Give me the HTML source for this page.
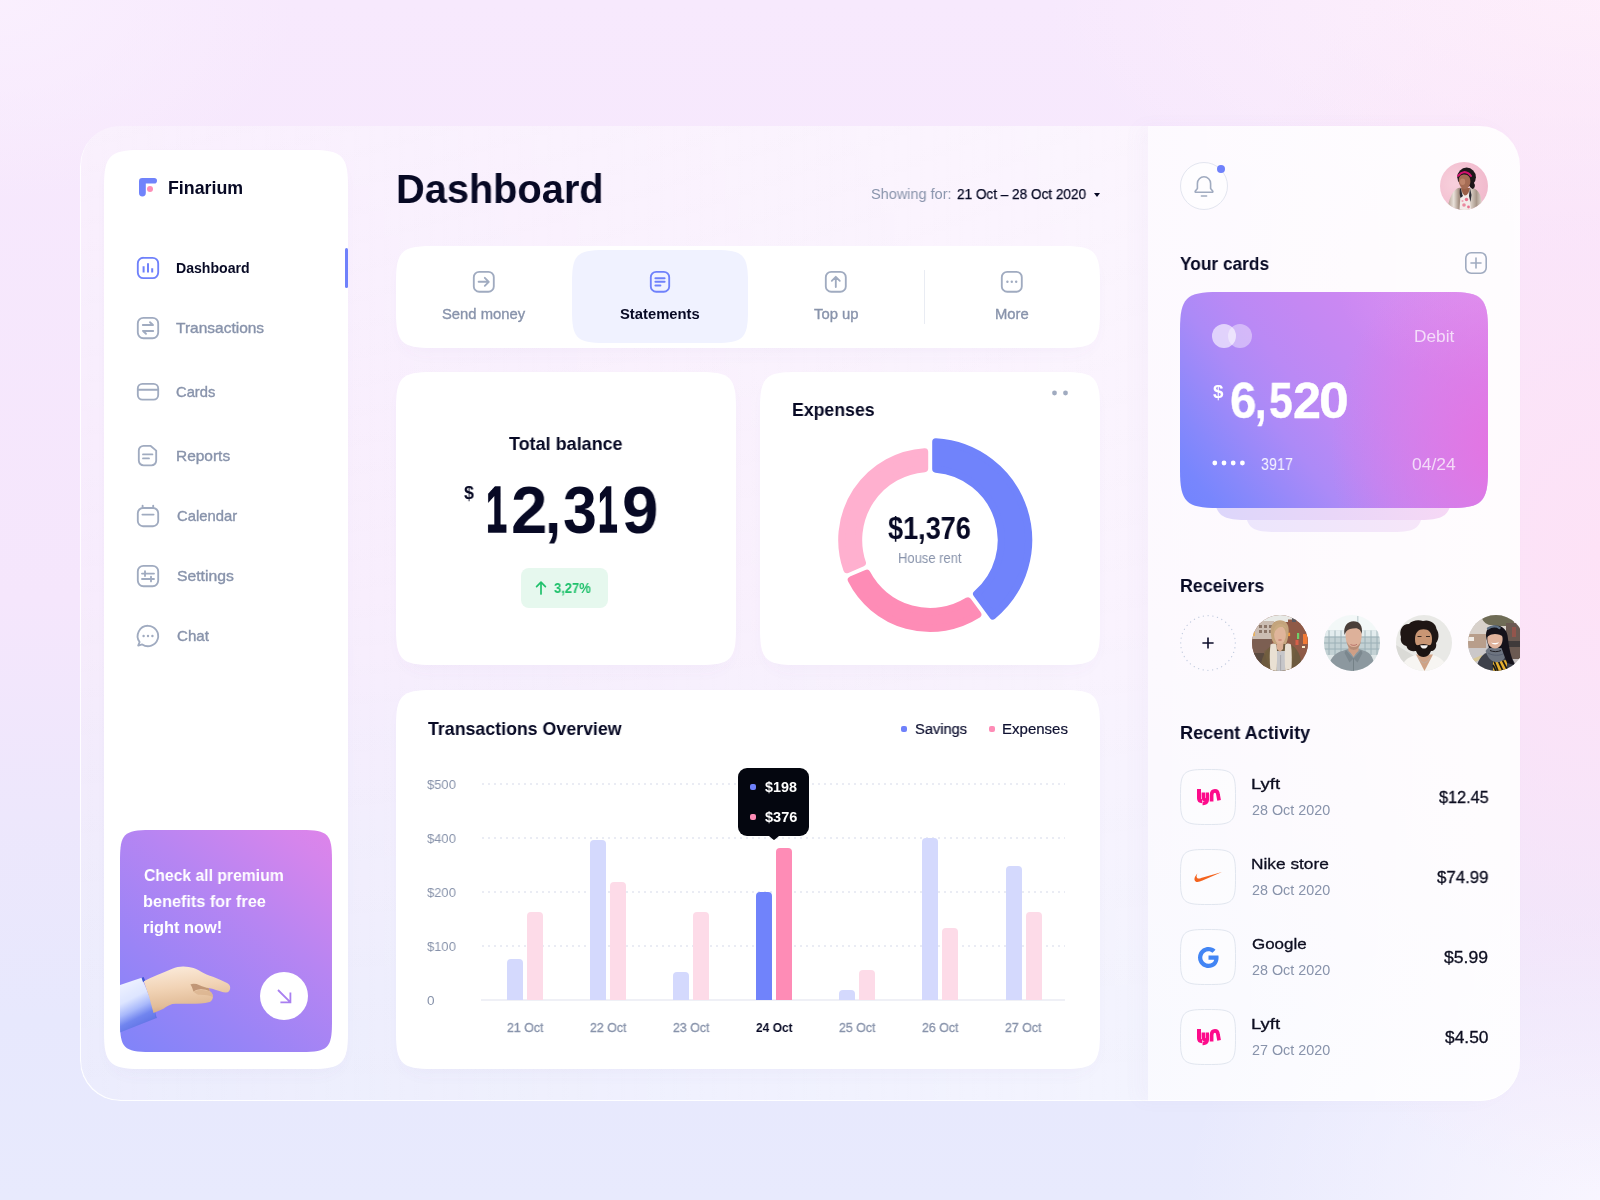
<!DOCTYPE html>
<html lang="en"><head><meta charset="utf-8"><title>Finarium Dashboard</title>
<style>
html,body{margin:0;padding:0}
body{width:1600px;height:1200px;position:relative;overflow:hidden;font-family:"Liberation Sans",sans-serif;
background:
 radial-gradient(ellipse 460px 640px at 100% 46%, rgba(253,226,246,1) 0%, rgba(253,227,247,.55) 50%, rgba(253,226,246,0) 100%),
 radial-gradient(ellipse 560px 240px at 100% 0%, rgba(254,240,251,.95) 0%, rgba(254,240,251,0) 100%),
 radial-gradient(ellipse 420px 300px at 100% 100%, rgba(249,246,255,.95) 0%, rgba(249,246,255,0) 100%),
 radial-gradient(ellipse 300px 200px at 0% 0%, rgba(250,240,254,.9) 0%, rgba(250,240,254,0) 100%),
 linear-gradient(180deg,#f7e9fd 0%,#f5e6fc 50%,#ede7fc 68%,#e7e8fd 85%,#e8eafd 100%);}
.a{position:absolute;box-sizing:border-box}
.t{position:absolute;white-space:nowrap;line-height:1;transform-origin:0 0;display:block;will-change:transform}
.card{position:absolute;background:#fff;border-radius:24px;box-shadow:0 6px 18px rgba(150,120,200,.045)}
svg{position:absolute;overflow:visible}
</style></head>
<body>
<div class="a" style="left:80px;top:126px;width:1068px;height:975px;border-radius:40px 0 0 40px;background:linear-gradient(180deg,rgba(255,255,255,.15),rgba(255,255,255,.04) 60%,rgba(255,255,255,0)),linear-gradient(90deg,rgba(255,255,255,.20),rgba(255,255,255,.34) 50%,rgba(255,255,255,.50));box-shadow:inset 1px -1px 0 rgba(255,255,255,.9);"></div>
<div class="a" style="left:1148px;top:126px;width:372px;height:975px;border-radius:0 40px 40px 0;background:linear-gradient(90deg,rgba(255,255,255,.76),rgba(255,255,255,.84) 50%,rgba(255,255,255,.90));box-shadow:inset 0 -1px 0 rgba(255,255,255,.95), -10px 0 18px rgba(150,120,200,.035);"></div>
<svg style="left:0;top:0" width="1600" height="1200" viewBox="0 0 1600 1200"><defs><filter id="blr" x="-10%" y="-10%" width="120%" height="130%"><feGaussianBlur stdDeviation="7"/></filter></defs><path d="M110 196C110 166 116 160 146 160H306C336 160 342 166 342 196V1037C342 1067 336 1073 306 1073H146C116 1073 110 1067 110 1037Z" fill="rgba(140,115,200,.05)" filter="url(#blr)"/><path d="M104 186C104 156 110 150 140 150H312C342 150 348 156 348 186V1033C348 1063 342 1069 312 1069H140C110 1069 104 1063 104 1033Z" fill="#fff"/><path d="M402 292C402 261.5 407.5 256 438 256H1058C1088.5 256 1094 261.5 1094 292V316C1094 346.5 1088.5 352 1058 352H438C407.5 352 402 346.5 402 316Z" fill="rgba(140,115,200,.05)" filter="url(#blr)"/><path d="M396 282C396 251.5 401.5 246 432 246H1064C1094.5 246 1100 251.5 1100 282V312C1100 342.5 1094.5 348 1064 348H432C401.5 348 396 342.5 396 312Z" fill="#fff"/><path d="M402 418C402 387.5 407.5 382 438 382H694C724.5 382 730 387.5 730 418V633C730 663.5 724.5 669 694 669H438C407.5 669 402 663.5 402 633Z" fill="rgba(140,115,200,.05)" filter="url(#blr)"/><path d="M396 408C396 377.5 401.5 372 432 372H700C730.5 372 736 377.5 736 408V629C736 659.5 730.5 665 700 665H432C401.5 665 396 659.5 396 629Z" fill="#fff"/><path d="M766 418C766 387.5 771.5 382 802 382H1058C1088.5 382 1094 387.5 1094 418V633C1094 663.5 1088.5 669 1058 669H802C771.5 669 766 663.5 766 633Z" fill="rgba(140,115,200,.05)" filter="url(#blr)"/><path d="M760 408C760 377.5 765.5 372 796 372H1064C1094.5 372 1100 377.5 1100 408V629C1100 659.5 1094.5 665 1064 665H796C765.5 665 760 659.5 760 629Z" fill="#fff"/><path d="M402 736C402 705.5 407.5 700 438 700H1058C1088.5 700 1094 705.5 1094 736V1037C1094 1067.5 1088.5 1073 1058 1073H438C407.5 1073 402 1067.5 402 1037Z" fill="rgba(140,115,200,.05)" filter="url(#blr)"/><path d="M396 726C396 695.5 401.5 690 432 690H1064C1094.5 690 1100 695.5 1100 726V1033C1100 1063.5 1094.5 1069 1064 1069H432C401.5 1069 396 1063.5 396 1033Z" fill="#fff"/><path d="M572 282C572 255 577 250 604 250H716C743 250 748 255 748 282V311C748 338 743 343 716 343H604C577 343 572 338 572 311Z" fill="#f0f2ff"/></svg>
<svg style="left:139px;top:178px" width="18" height="18" viewBox="0 0 18 18"><path d="M0 3.2Q0 0 3.2 0H15.2A2.8 2.8 0 0 1 15.2 5.6H6.8V15A2.9 2.9 0 0 1 0 15Z" fill="#7083fb"/><circle cx="11" cy="11" r="3" fill="#fd8db6"/></svg>
<div class="a" style="left:345px;top:248px;width:3px;height:40px;border-radius:2px;background:#6f81fb"></div>
<svg style="left:137px;top:257px" width="22" height="22" viewBox="0 0 22 22" fill="none" stroke="#6f81fb" stroke-width="1.85" stroke-linecap="round" stroke-linejoin="round"><rect x=".8" y=".8" width="20.4" height="20.4" rx="5.6"/><path d="M6.6 15.4V9.2M11 15.4V6.2M15.2 15.4V11.2" stroke-width="2" stroke-linecap="butt"/></svg>
<svg style="left:137px;top:317px" width="22" height="22" viewBox="0 0 22 22" fill="none" stroke="#a0abc0" stroke-width="1.85" stroke-linecap="round" stroke-linejoin="round"><rect x=".8" y=".8" width="20.4" height="20.4" rx="5.6"/><path d="M5.8 8h10.2M13 5.2l3 2.8M16.2 14H6M9 16.8l-3-2.8"/></svg>
<svg style="left:137px;top:383.3px" width="22" height="17.4" viewBox="0 0 22 17.4" fill="none" stroke="#a0abc0" stroke-width="1.85" stroke-linecap="round" stroke-linejoin="round"><rect x=".8" y=".8" width="20.4" height="15.8" rx="4.6"/><path d="M1 6.8h20"/></svg>
<svg style="left:138.4px;top:445.4px" width="19" height="21.2" viewBox="0 0 19 21.2" fill="none" stroke="#a0abc0" stroke-width="1.85" stroke-linecap="round" stroke-linejoin="round"><path d="M5.6.8H12.4L18.2 5.6V15.6A4.8 4.8 0 0 1 13.4 20.4H5.6A4.8 4.8 0 0 1 .8 15.6V5.6A4.8 4.8 0 0 1 5.6.8Z"/><path d="M5 9.4h9.4M5 13.4h6"/></svg>
<svg style="left:137px;top:504.6px" width="22" height="22" viewBox="0 0 22 22" fill="none" stroke="#a0abc0" stroke-width="1.85" stroke-linecap="round" stroke-linejoin="round"><rect x=".8" y="3" width="20.4" height="18.2" rx="5.2"/><path d="M5.6.6v2.4M16.2.6v2.4M5.4 9.6h11.2"/></svg>
<svg style="left:137px;top:565px" width="22" height="22" viewBox="0 0 22 22" fill="none" stroke="#a0abc0" stroke-width="1.85" stroke-linecap="round" stroke-linejoin="round"><rect x=".8" y=".8" width="20.4" height="20.4" rx="5.6"/><path d="M5 8.6h12M8 6.2v4.8M5 14h12M14 11.6v4.8"/></svg>
<svg style="left:137px;top:625px" width="22" height="22" viewBox="0 0 22 22" fill="none" stroke="#a0abc0" stroke-width="1.85" stroke-linecap="round" stroke-linejoin="round"><path d="M11 .8A10.2 10.2 0 1 1 5.2 19.4L1.2 20.6L2.6 17A10.2 10.2 0 0 1 11 .8Z"/><g fill="#a0abc0" stroke="none"><circle cx="6.6" cy="11" r="1.2"/><circle cx="11" cy="11" r="1.2"/><circle cx="15.4" cy="11" r="1.2"/></g></svg>
<div class="a" style="left:120px;top:830px;width:212px;height:222px;clip-path:path('M0 30C0 4 4 0 30 0H182C208 0 212 4 212 30V192C212 218 208 222 182 222H30C4 222 0 218 0 192Z');background:linear-gradient(38deg,#7f84f9 0%,#9a84f6 30%,#b785f2 62%,#d585ec 90%,#de84ea 100%)"><svg style="left:0;top:0" width="212" height="222" viewBox="120 830 212 222"><defs><linearGradient id="slv" x1=".2" y1="0" x2=".55" y2="1"><stop offset="0" stop-color="#f1f4ff"/><stop offset=".38" stop-color="#dde5ff"/><stop offset=".58" stop-color="#a9b9fb"/><stop offset=".74" stop-color="#7185ef"/><stop offset="1" stop-color="#586be0"/></linearGradient><linearGradient id="skn" x1=".3" y1="0" x2=".5" y2="1"><stop offset="0" stop-color="#fbead9"/><stop offset=".45" stop-color="#f1d3b5"/><stop offset=".8" stop-color="#e2bd99"/><stop offset="1" stop-color="#cfa47f"/></linearGradient></defs><path d="M118 985.800L141.600 977.700Q150 996 156.600 1018.100L118 1033.400Z" fill="url(#slv)"/><path d="M141.600 977.700L143.600 977.100L145.600 981.400L143 982Z" fill="#3f55d2"/><path d="M147.400 986.500Q152.600 1000 156 1018.300L156.700 1018Q152.600 1000 148 986.300Z" fill="#4c61d8" opacity=".5"/><path d="M143.750 981.250C148 979 152.500 977 157.250 975C162 973 167 970.800 172.250 968.750C176 967.300 180 966.500 183.500 966.600C187 966.700 190.500 967.200 193.500 968.100C197 969.300 200.500 971.300 203.500 973.100C207.500 975.100 212 976.600 216 978.100C219.500 979.500 223 981 226 982.500C228.800 983.800 230.400 985.700 230.200 987.900C230 990.600 228.600 992.400 226 992.450C222.500 992.500 219.300 991 216 990C213.500 989.200 211 988.600 208.500 988.100C209.300 989 209.700 990.100 209.750 991.250C211.800 992.500 213.100 994.600 212.900 996.900C212.700 999.200 211.600 1001.100 209.750 1001.900C204 1003.500 197.500 1003.600 191 1003.750C184.500 1003.900 178 1003.300 172.250 1004C169 1005 166.200 1006.800 163.500 1008.750C160 1010.400 156.600 1011.900 153.500 1013.100Q149.500 996 143.750 981.250Z" fill="url(#skn)"/><path d="M190.400 984.400C193 983.400 196.500 983.800 199.500 985.200C202.800 986.600 206 987.600 208.500 988.100C209.300 989 209.700 990.100 209.750 991.250C206.500 989.500 202.500 988.800 199 989.400C196.500 989.800 194.500 990.600 193.400 991.400C192.800 989 191.800 986.400 190.400 984.400Z" fill="#b88c6b" opacity=".85"/><path d="M193.400 991.400C196 990.200 199.500 989.600 202.500 990C205.500 990.400 208 991 209.750 991.250C211.800 992.500 213.100 994.600 212.900 996.900C209 995.200 203 994.400 198.500 994.800C196.500 993.900 194.600 992.700 193.400 991.400Z" fill="#d9b08c" opacity=".7"/></svg></div>
<div class="a" style="left:260px;top:972px;width:48px;height:48px;border-radius:50%;background:#fff"></div>
<svg style="left:276.600px;top:988.800px" width="15" height="15" viewBox="0 0 15 15" fill="none" stroke="#a97ff0" stroke-width="1.800" stroke-linecap="butt" stroke-linejoin="miter"><path d="M1 1L13.200 13.200M13.400 3.400V13.400H3.400"/></svg>
<svg style="left:1094px;top:193px" width="6" height="4" viewBox="0 0 6 4"><path d="M0 0h6L3 4Z" fill="#070924"/></svg>
<div class="a" style="left:923.5px;top:270px;width:1px;height:54px;background:#e9ecf3"></div>
<svg style="left:473.2px;top:271.0px" width="21.6" height="21.6" viewBox="0 0 21.6 21.6" fill="none" stroke="#a0abc0" stroke-width="1.85" stroke-linecap="round" stroke-linejoin="round"><rect x=".8" y=".8" width="20" height="20" rx="5.4"/><path d="M5.6 10.8h10M11.8 6.8l4 4l-4 4"/></svg>
<svg style="left:650.0px;top:271.0px" width="20" height="21.6" viewBox="0 0 20 21.6" fill="none" stroke="#6f81fb" stroke-width="1.85" stroke-linecap="round" stroke-linejoin="round"><rect x=".8" y=".8" width="18.4" height="20" rx="5.4"/><path d="M5.4 7.2h9.2M5.4 10.8h9.2M5.4 14.4h5" stroke-width="2"/></svg>
<svg style="left:825.2px;top:271.0px" width="21.6" height="21.6" viewBox="0 0 21.6 21.6" fill="none" stroke="#a0abc0" stroke-width="1.85" stroke-linecap="round" stroke-linejoin="round"><rect x=".8" y=".8" width="20" height="20" rx="5.4"/><path d="M10.8 16V6M6.8 9.8l4-4l4 4"/></svg>
<svg style="left:1001.2px;top:271.0px" width="21.6" height="21.6" viewBox="0 0 21.6 21.6" fill="none" stroke="#a0abc0" stroke-width="1.85" stroke-linecap="round" stroke-linejoin="round"><rect x=".8" y=".8" width="20" height="20" rx="5.4"/><g fill="#a0abc0" stroke="none"><circle cx="6.4" cy="10.8" r="1.2"/><circle cx="10.8" cy="10.8" r="1.2"/><circle cx="15.2" cy="10.8" r="1.2"/></g></svg>
<div class="a" style="left:521px;top:568px;width:87px;height:40px;border-radius:8px;background:#e6f8ee"></div>
<svg style="left:535px;top:581px" width="12" height="14" viewBox="0 0 12 14" fill="none" stroke="#20c16c" stroke-width="1.7" stroke-linecap="round" stroke-linejoin="round"><path d="M6 13V1.4M1.6 5.6L6 1.2l4.4 4.4"/></svg>
<svg style="left:1050px;top:388px" width="20" height="10" viewBox="0 0 20 10"><circle cx="4.5" cy="5" r="2.4" fill="#a0abc0"/><circle cx="15.5" cy="5" r="2.4" fill="#a0abc0"/></svg>
<svg style="left:0;top:0" width="1600" height="1200" viewBox="0 0 1600 1200"><path d="M935.80 441.76A98.4 98.4 0 0 1 992.74 615.97L976.58 593.89A71.1 71.1 0 0 0 935.79 469.12Z" fill="#7083fb" stroke="#7083fb" stroke-width="7.2" stroke-linejoin="round"/><path d="M977.79 614.50A88.4 88.4 0 0 1 851.32 579.90L866.79 573.26A71.6 71.6 0 0 0 967.84 600.91Z" fill="#fe8cb6" stroke="#fe8cb6" stroke-width="7.2" stroke-linejoin="round"/><path d="M846.91 569.61A88.4 88.4 0 0 1 924.60 451.78L924.61 468.62A71.6 71.6 0 0 0 862.39 562.98Z" fill="#ffb0cf" stroke="#ffb0cf" stroke-width="7.2" stroke-linejoin="round"/></svg>
<div class="a" style="left:901px;top:726px;width:6px;height:6px;border-radius:2px;background:#6f81fb"></div>
<div class="a" style="left:989px;top:726px;width:6px;height:6px;border-radius:2px;background:#fe8cb6"></div>
<svg style="left:0;top:0" width="1600" height="1200" viewBox="0 0 1600 1200"><line x1="482" y1="784" x2="1065" y2="784" stroke="#eaecf4" stroke-width="2" stroke-dasharray="2 4"/><line x1="482" y1="838" x2="1065" y2="838" stroke="#eaecf4" stroke-width="2" stroke-dasharray="2 4"/><line x1="482" y1="892" x2="1065" y2="892" stroke="#eaecf4" stroke-width="2" stroke-dasharray="2 4"/><line x1="482" y1="946" x2="1065" y2="946" stroke="#eaecf4" stroke-width="2" stroke-dasharray="2 4"/><line x1="481" y1="1000" x2="1065" y2="1000" stroke="#eff0f6" stroke-width="2"/><path d="M507 1000V963Q507 959 511 959H519Q523 959 523 963V1000Z" fill="#d4d9fd"/><path d="M527 1000V916Q527 912 531 912H539Q543 912 543 916V1000Z" fill="#fddbe8"/><path d="M590 1000V844Q590 840 594 840H602Q606 840 606 844V1000Z" fill="#d4d9fd"/><path d="M610 1000V886Q610 882 614 882H622Q626 882 626 886V1000Z" fill="#fddbe8"/><path d="M673 1000V976Q673 972 677 972H685Q689 972 689 976V1000Z" fill="#d4d9fd"/><path d="M693 1000V916Q693 912 697 912H705Q709 912 709 916V1000Z" fill="#fddbe8"/><path d="M756 1000V896Q756 892 760 892H768Q772 892 772 896V1000Z" fill="#7083fb"/><path d="M776 1000V852Q776 848 780 848H788Q792 848 792 852V1000Z" fill="#fe8cb6"/><path d="M839 1000V994Q839 990 843 990H851Q855 990 855 994V1000Z" fill="#d4d9fd"/><path d="M859 1000V974Q859 970 863 970H871Q875 970 875 974V1000Z" fill="#fddbe8"/><path d="M922 1000V842Q922 838 926 838H934Q938 838 938 842V1000Z" fill="#d4d9fd"/><path d="M942 1000V932Q942 928 946 928H954Q958 928 958 932V1000Z" fill="#fddbe8"/><path d="M1006 1000V870Q1006 866 1010 866H1018Q1022 866 1022 870V1000Z" fill="#d4d9fd"/><path d="M1026 1000V916Q1026 912 1030 912H1038Q1042 912 1042 916V1000Z" fill="#fddbe8"/></svg>
<div class="a" style="left:738px;top:768px;width:71px;height:68px;border-radius:9px;background:#04060f"></div>
<svg style="left:769px;top:835.5px" width="10" height="5" viewBox="0 0 10 5"><path d="M0 0h10L5.800 3.600Q5 4.300 4.200 3.600Z" fill="#04060f"/></svg>
<div class="a" style="left:750px;top:784px;width:6px;height:6px;border-radius:2px;background:#6f81fb"></div>
<div class="a" style="left:750px;top:814px;width:6px;height:6px;border-radius:2px;background:#fe8cb6"></div>
<div class="a" style="left:1180px;top:162px;width:48px;height:48px;border-radius:50%;border:1px solid #e3e6f0;background:rgba(255,255,255,.5)"></div>
<svg style="left:1193px;top:174px" width="22" height="24" viewBox="0 0 22 24" fill="none" stroke="#a0abc0" stroke-width="1.6" stroke-linecap="round" stroke-linejoin="round"><path d="M4.4 14.6V9.4A6.6 6.6 0 0 1 17.6 9.4V14.6L19.8 17.2Q20.2 18.2 19 18.2H3Q1.8 18.2 2.2 17.2Z"/><path d="M8.4 22h5.2"/></svg>
<div class="a" style="left:1217px;top:165px;width:8px;height:8px;border-radius:50%;background:#6f81fb"></div>
<svg style="left:1440px;top:162px" width="48" height="48" viewBox="0 0 48 48"><defs><clipPath id="ua"><circle cx="24" cy="24" r="24"/></clipPath><radialGradient id="uab" cx=".3" cy=".45" r=".8"><stop offset="0" stop-color="#f8d0dc"/><stop offset="1" stop-color="#f0b7cb"/></radialGradient><linearGradient id="ujk" x1="0" y1="0" x2="1" y2="0"><stop offset="0" stop-color="#b3a093"/><stop offset=".18" stop-color="#e9e1da"/><stop offset=".34" stop-color="#a08b7d"/><stop offset=".5" stop-color="#e6ddd5"/><stop offset=".68" stop-color="#d8cdc4"/><stop offset=".84" stop-color="#a8978a"/><stop offset="1" stop-color="#e3dad3"/></linearGradient></defs><g clip-path="url(#ua)"><rect width="48" height="48" fill="url(#uab)"/><path d="M7.500 48C8.500 38 12 29.500 17 26.500C20 25 23 25.500 26 26L30.500 25.500C35 26 39 29 40.500 34C42 39 42 44 42 48Z" fill="url(#ujk)"/><path d="M20.500 33C22 31 26 31 29 32L31 48H19.500Z" fill="#f3ebe9"/><circle cx="26.500" cy="37.500" r="1.700" fill="#e8738f"/><circle cx="24" cy="43" r="1.800" fill="#ea8aa0"/><circle cx="28.500" cy="45" r="1.400" fill="#e8738f"/><circle cx="22.500" cy="39" r="1.100" fill="#f0a4b6"/><path d="M21 26.500C21.500 30 22 32 23 34L20.500 36C19.500 33 19.500 29 20 26.500Z" fill="#2a2c35"/><path d="M30 26L29 34L30.500 40L31.500 33Z" fill="#2a2c35"/><path d="M21 26C22 29 23 33 25 33.500C27.500 33.500 29 30 30 26Z" fill="#9a6048"/><ellipse cx="26.600" cy="15.200" rx="9.300" ry="9.600" fill="#1d171a"/><path d="M30 20C36 19 36 26 32.500 27L30 25Z" fill="#1d171a"/><path d="M18.800 19C18.400 14.500 21 12.500 24.500 12.500C28.500 12.500 30.500 15.500 30.400 19.500C30.300 23.500 28 27 24.500 27C21.500 27 19.200 23.500 18.800 19Z" fill="#a56c54"/><ellipse cx="22.600" cy="19.800" rx="2.600" ry="3.200" fill="#c98f74" opacity=".7"/><path d="M18 13.800C20 11.500 22.500 10.200 24.500 10C27.500 10.200 29.500 11.800 31 14" stroke="#d4116f" stroke-width="2" fill="none" stroke-linecap="round"/></g></svg>
<svg style="left:1465px;top:252px" width="22" height="22" viewBox="0 0 22 22" fill="none" stroke="#a0abc0" stroke-width="1.6" stroke-linecap="round"><rect x=".8" y=".8" width="20.4" height="20.4" rx="5.4"/><path d="M11 6v10M6 11h10"/></svg>
<div class="a" style="left:1245px;top:470px;width:178px;height:62px;clip-path:path('M0 30C0 5 5 0 30 0H148C173 0 178 5 178 30V32C178 57 173 62 148 62H30C5 62 0 57 0 32Z');background:linear-gradient(90deg,#ece6fc,#f6e6f9)"></div>
<div class="a" style="left:1214px;top:450px;width:238px;height:70px;clip-path:path('M0 34C0 5 5 0 34 0H204C233 0 238 5 238 34V36C238 65 233 70 204 70H34C5 70 0 65 0 36Z');background:linear-gradient(90deg,#dcd6fb,#e9d6f8 50%,#f6d8f5)"></div>
<div class="a" style="left:1180px;top:292px;width:308px;height:216px;clip-path:path('M0 38C0 6 6 0 38 0H270C302 0 308 6 308 38V178C308 210 302 216 270 216H38C6 216 0 210 0 178Z');background:radial-gradient(ellipse 170px 200px at 104% 72%,rgba(230,114,224,.9),rgba(228,118,226,.45) 55%,rgba(226,118,226,0) 100%),radial-gradient(ellipse 150px 90px at 100% 0%,rgba(226,156,242,.5),rgba(226,156,242,0) 100%),linear-gradient(52deg,#7184fe 0%,#7886fd 8%,#8788fb 16%,#9a89f9 25%,#ac8af7 34%,#ba89f5 45%,#c488f3 58%,#cd88f2 72%,#d98cef 100%)"></div>
<svg style="left:1212px;top:324px" width="40" height="24" viewBox="0 0 40 24"><circle cx="12" cy="12" r="12" fill="#fff" fill-opacity=".62"/><circle cx="28" cy="12" r="12" fill="#fff" fill-opacity=".4"/></svg>
<svg style="left:1212px;top:460px" width="34" height="6" viewBox="0 0 34 6" fill="#fff"><circle cx="2.8" cy="3" r="2.4"/><circle cx="12" cy="3" r="2.4"/><circle cx="21.2" cy="3" r="2.4"/><circle cx="30.4" cy="3" r="2.4"/></svg>
<svg style="left:1180px;top:615px" width="56" height="56" viewBox="0 0 56 56" fill="none"><circle cx="28" cy="28" r="27.3" stroke="#c4cde0" stroke-width="1.3" stroke-dasharray="0.1 4.66" stroke-linecap="round"/><path d="M22.4 28h11.2M28 22.4v11.2" stroke="#0b0c2a" stroke-width="1.6"/></svg>
<svg style="left:1252px;top:615px" width="56" height="56" viewBox="0 0 56 56"><defs><clipPath id="av1"><circle cx="28" cy="28" r="28"/></clipPath></defs><g clip-path="url(#av1)"><rect width="56" height="56" fill="#8d5946"/><rect width="56" height="7" fill="#e8eae7"/><rect x="0" y="6" width="22" height="19" fill="#cbbdb2"/><path d="M7 10h3v3h-3zM12 10h3v3h-3zM17 10h3v3h-3zM7 15h3v3h-3zM12 15h3v3h-3zM17 15h3v3h-3z" fill="#8c7668"/><rect x="36" y="4.500" width="20" height="34" fill="#8f5a47"/><rect x="40" y="3" width="4" height="4" fill="#5b5a60"/><rect x="45" y="18" width="2.200" height="6" fill="#6fd06a"/><rect x="51" y="19" width="4.500" height="10" fill="#f27a35"/><rect x="35.500" y="17.700" width="2.600" height="3.400" fill="#f39a3c"/><rect x="43.500" y="25" width="3" height="5" fill="#e8604a" opacity=".8"/><rect x="50" y="31" width="3" height="2" fill="#f6e9c8"/><rect x="0" y="24" width="20" height="15" fill="#7c5f52"/><rect x="0" y="38" width="12" height="18" fill="#5a4a40"/><rect x="0" y="17" width="3" height="4" fill="#f2b24a" opacity=".8"/><path d="M8 56C9 42 14 33 22 29L30 27.500L37 29C45 32 50 40 50 56Z" fill="#6d5a3f"/><path d="M22 30L28 44L34 30L37 29L44 34L38 56H18L12 36Z" fill="#75613f" opacity=".6"/><path d="M24 36L33.400 36L33 56H24.500Z" fill="#c6c6c9"/><path d="M28.600 40V56" stroke="#9fa0a6" stroke-width=".8"/><path d="M18.500 29.500C21 28 23.500 28.500 24.500 30C25.500 38 25 48 24.500 56H18.500C17.500 47 17.500 37 18.500 29.500Z" fill="#e9e0d3"/><path d="M39 29.500C36.500 28 34 28.500 33.200 30C32.400 38 32.800 48 33.200 56H39.300C40 47 40 37 39 29.500Z" fill="#e9e0d3"/><path d="M19 20C17.500 10 22 5.200 28 5.200C34.500 5.200 37.800 10 36.400 19C36 24 35 27 33.800 29L22.500 29C20.500 27 19.400 24 19 20Z" fill="#c3a47c"/><path d="M24.500 27H31.500L31 34L28 37L25 34Z" fill="#d9ad92"/><ellipse cx="28" cy="19.800" rx="5.900" ry="9" fill="#dfb59b"/><path d="M21.500 19C21.500 11.500 25 8.500 29 9C32 9.300 34 11 34.500 14C32 11.500 28 11.500 25.500 13.500C23.500 15 22.500 17 21.500 19Z" fill="#c9aa80"/><ellipse cx="28" cy="25" rx="2" ry=".7" fill="#c57f72"/></g></svg>
<svg style="left:1324px;top:615px" width="56" height="56" viewBox="0 0 56 56"><defs><clipPath id="av2"><circle cx="28" cy="28" r="28"/></clipPath></defs><g clip-path="url(#av2)"><rect width="56" height="56" fill="#f3f8f8"/><rect x="0" y="15.500" width="56" height="25" fill="#c3d1d4"/><rect x="0" y="15.500" width="56" height="6" fill="#e3ecee"/><path d="M0 22H56M0 28H56M0 34H56M5 15.500V40M11 15.500V40M17 15.500V40M41 15.500V40M47 15.500V40M53 15.500V40" stroke="#8ea5ad" stroke-width=".9" opacity=".8"/><rect x="33" y="1" width="1.500" height="14" fill="#c9d6d8"/><rect x="0" y="40" width="56" height="16" fill="#dde5e6"/><path d="M4 56C5 44 10 38.500 18 36L24 34H35L41 36C47 38 50.500 44 51 56Z" fill="#8c989f"/><path d="M24 33.500L29.500 42L35 33.500Z" fill="#d2a48c"/><path d="M22 35L29.500 43.500L25.500 47.500L20.500 38ZM37 35L29.500 43.500L33.500 47.500L38.500 38Z" fill="#7b878e"/><path d="M29.500 43.500V56" stroke="#6f7b82" stroke-width=".8"/><path d="M24.500 29H34.500V36L29.500 40L24.500 36Z" fill="#cf9f86"/><path d="M21.600 22C21 15 24 10.500 29.800 10.500C35.500 10.500 38.200 15 37.600 22C37 29 34 35 29.600 35C25.500 35 22.200 29 21.600 22Z" fill="#ddb19a"/><path d="M22.500 26C23.500 32 26.500 35 29.600 35C33 35 36 32 37 26C35.500 30 33 32 29.600 32C26.500 32 24 30 22.500 26Z" fill="#a98069" opacity=".75"/><path d="M20.500 20C19 11 23.500 6.200 29.500 6.200C35.500 6.200 39 10.500 37.800 19C37 15.500 35 13.200 31.500 13.200C27.500 13.200 24 14 22.200 16.500C21.500 17.500 21 19 20.500 20Z" fill="#4a3f3a"/><path d="M26.500 29.500C28.500 30.700 31.500 30.700 33 29.200" stroke="#b56e66" stroke-width=".9" fill="none"/></g></svg>
<svg style="left:1396px;top:615px" width="56" height="56" viewBox="0 0 56 56"><defs><clipPath id="av3"><circle cx="28" cy="28" r="28"/></clipPath></defs><g clip-path="url(#av3)"><rect width="56" height="56" fill="#e9e9e6"/><path d="M0 30L20 42L0 56Z" fill="#d3d3cf" opacity=".7"/><path d="M5 56C6 46 12 42 20 40L36.500 40C44 42 50 46 51 56Z" fill="#f7f5f2"/><path d="M20 39.500L28.500 56L37 39.500Z" fill="#cfa285"/><path d="M22 42Q28 54 34.500 42" stroke="#b8b4ae" stroke-width=".6" fill="none"/><path d="M5 22C2.500 15 7 8.500 13 9C16 5 23 4.500 27 6C33 4 40 8 40.500 14C43.500 18 43 25 40 28C41 32 39 35.500 36 36L19 36C15 37 11 34.500 10.500 31C6 30 4 26 5 22Z" fill="#1f1614"/><path d="M19 24C19 17.500 22.500 14.300 27.500 14.300C32.500 14.300 36 17.500 36 24C36 31 33 36 27.500 36C22 36 19 31 19 24Z" fill="#c99674"/><path d="M18.600 27C18.600 38 23 42 27.500 42C32 42 36.400 38 36.400 27C35.500 30 33.500 31 31.500 29.800C29 28.800 26 28.800 23.500 29.800C21.500 31 19.500 30 18.600 27Z" fill="#1b1311"/><path d="M24.300 30.200H31.800C31.500 32.600 29.800 33.600 28 33.600C26.200 33.600 24.600 32.600 24.300 30.200Z" fill="#f7f3f0"/><path d="M21.500 21.500h4M30 21.500h4" stroke="#3a2a22" stroke-width="1"/></g></svg>
<div class="a" style="left:1468px;top:615px;width:52px;height:56px;overflow:hidden"><svg style="left:0px;top:0px" width="56" height="56" viewBox="0 0 56 56"><defs><clipPath id="av4"><circle cx="28" cy="28" r="28"/></clipPath></defs><g clip-path="url(#av4)"><rect width="56" height="56" fill="#c7c2c2"/><rect x="0" y="0" width="56" height="22" fill="#d8d1cb"/><path d="M13 0H46V9C40 12 30 11 22 10C18 9.500 14 6 13 0Z" fill="#6f6c56"/><rect x="0" y="19" width="18" height="14" fill="#b89e8b"/><rect x="0" y="22" width="6" height="4" fill="#f1ece6"/><rect x="38" y="8" width="18" height="36" fill="#6b5a52"/><rect x="44" y="12" width="4" height="10" fill="#a4524a" opacity=".7"/><rect x="40" y="26" width="16" height="6" fill="#3f3a3a"/><rect x="0" y="33" width="30" height="23" fill="#cbc8c9"/><path d="M0 46L14 40L16 43L0 50Z" fill="#e1c878" opacity=".6"/><path d="M8 56C9 46 13 40 20 37L30 36L40 40C46 44 48 50 48 56Z" fill="#3d404a"/><path d="M25 45.300H39V56H25Z" fill="#e6b02f"/><path d="M26 46L30 56M30 45.300L35 56M34.500 45.300L39 54M25 50L28 56" stroke="#1c1a18" stroke-width="1.700"/><path d="M17.600 36C19 32 24 31 28 32C32 31 37 32 38 36C38.500 41 36 46 31 47C26 48 20 45 17.600 36Z" fill="#6d7480"/><path d="M20 38C25 41 32 41 37 38" stroke="#596070" stroke-width="1" fill="none"/><path d="M18.500 24C16.500 15 21 10.500 27.500 10.500C35 10.500 39.500 15 40 24C41 33 43 42 46.500 50L39 48L36 40L33.500 33H21Z" fill="#15121a"/><path d="M19.300 24C19.300 18.500 22.500 15.500 27 15.500C31.500 15.500 34.600 18.500 34.600 24C34.600 29.500 31.500 33.400 27 33.400C22.500 33.400 19.300 29.500 19.300 24Z" fill="#e0b39c"/><path d="M18.800 22.500C19 16 23 13.500 28 14C32 14.400 35 17 35.500 22C32.500 19.500 27.500 18 23.500 19.500C21.500 20.200 20 21.300 18.800 22.500Z" fill="#15121a"/><path d="M20 13.500C23.500 10.800 29 10.800 31.500 13" stroke="#5f7085" stroke-width="2.400" fill="none" stroke-linecap="round"/><path d="M23 27.500C25 30.200 29.500 30.200 31 27.300C29 28.300 25 28.400 23 27.500Z" fill="#fff"/><path d="M22 35.500C25 37 30 37 33 35.500" stroke="#1a171c" stroke-width=".9" fill="none"/></g></svg></div>
<svg style="left:1180px;top:769px" width="56" height="56" viewBox="0 0 56 56"><path d="M0.5 24.5C0.5 3.7 3.7 0.5 24.5 0.5H31.5C52.3 0.5 55.5 3.7 55.5 24.5V31.5C55.5 52.3 52.3 55.5 31.5 55.5H24.5C3.7 55.5 0.5 52.3 0.5 31.5Z" fill="rgba(255,255,255,.4)" stroke="#e1e6ef" stroke-width="1"/></svg>
<svg style="left:1196.8px;top:788.8px" width="23.4" height="16.4" viewBox="0 0 23.4 16.4" fill="none" stroke="#fd0b8b" stroke-linecap="butt" stroke-linejoin="round"><path d="M2 0V9.300Q2 12.200 5.200 12.200" stroke-width="4"/><path d="M6.300 3.400V8Q6.300 10.900 8.300 10.900Q10.300 10.900 10.300 8V3.400M10.300 7V11Q10.300 14.700 5.600 14.500" stroke-width="3.400"/><path d="M14.600 12.600V6.200Q14.600 1.900 18 1.900Q20.700 1.900 21 5.400L22.100 11.400" stroke-width="3.700"/></svg>
<svg style="left:1180px;top:849px" width="56" height="56" viewBox="0 0 56 56"><path d="M0.5 24.5C0.5 3.7 3.7 0.5 24.5 0.5H31.5C52.3 0.5 55.5 3.7 55.5 24.5V31.5C55.5 52.3 52.3 55.5 31.5 55.5H24.5C3.7 55.5 0.5 52.3 0.5 31.5Z" fill="rgba(255,255,255,.4)" stroke="#e1e6ef" stroke-width="1"/></svg>
<svg style="left:1194px;top:871.5px" width="28" height="11" viewBox="0 0 28 11"><path d="M28 0L8.500 8.600C5.500 9.900 3 10.400 1.600 9.400C-.4 8 .3 5 3.400 1.600C2.400 3.600 2.200 5.400 3.400 6.200C4.600 7 6.600 6.300 8.800 5.600Z" fill="#f4631e"/></svg>
<svg style="left:1180px;top:929px" width="56" height="56" viewBox="0 0 56 56"><path d="M0.5 24.5C0.5 3.7 3.7 0.5 24.5 0.5H31.5C52.3 0.5 55.5 3.7 55.5 24.5V31.5C55.5 52.3 52.3 55.5 31.5 55.5H24.5C3.7 55.5 0.5 52.3 0.5 31.5Z" fill="rgba(255,255,255,.4)" stroke="#e1e6ef" stroke-width="1"/></svg>
<svg style="left:1197.5px;top:946.5px" width="21" height="21" viewBox="1 1 22 22" fill="#4285f4"><path d="M22.560 12.250c0-.780-.070-1.530-.200-2.250H12v4.260h5.920c-.260 1.370-1.040 2.530-2.210 3.310v2.770h3.570c2.080-1.920 3.280-4.740 3.280-8.090z"/><path d="M12 23c2.970 0 5.460-.980 7.280-2.660l-3.570-2.770c-.980.660-2.230 1.060-3.710 1.060-2.860 0-5.290-1.930-6.160-4.530H2.180v2.840C3.990 20.530 7.700 23 12 23z"/><path d="M5.840 14.090c-.220-.660-.350-1.360-.350-2.090s.130-1.430.350-2.090V7.070H2.180C1.430 8.550 1 10.220 1 12s.430 3.450 1.180 4.930l2.850-2.220.810-.620z"/><path d="M12 5.380c1.620 0 3.060.560 4.210 1.640l3.150-3.150C17.450 2.090 14.970 1 12 1 7.700 1 3.990 3.470 2.180 7.070l3.660 2.840c.870-2.600 3.300-4.530 6.160-4.530z"/></svg>
<svg style="left:1180px;top:1009px" width="56" height="56" viewBox="0 0 56 56"><path d="M0.5 24.5C0.5 3.7 3.7 0.5 24.5 0.5H31.5C52.3 0.5 55.5 3.7 55.5 24.5V31.5C55.5 52.3 52.3 55.5 31.5 55.5H24.5C3.7 55.5 0.5 52.3 0.5 31.5Z" fill="rgba(255,255,255,.4)" stroke="#e1e6ef" stroke-width="1"/></svg>
<svg style="left:1196.8px;top:1028.8px" width="23.4" height="16.4" viewBox="0 0 23.4 16.4" fill="none" stroke="#fd0b8b" stroke-linecap="butt" stroke-linejoin="round"><path d="M2 0V9.300Q2 12.200 5.200 12.200" stroke-width="4"/><path d="M6.300 3.400V8Q6.300 10.900 8.300 10.900Q10.300 10.900 10.300 8V3.400M10.300 7V11Q10.300 14.700 5.600 14.500" stroke-width="3.400"/><path d="M14.600 12.600V6.200Q14.600 1.900 18 1.900Q20.700 1.900 21 5.400L22.100 11.400" stroke-width="3.700"/></svg>
<span class="t" style="left:167.75px;top:180px;font-size:17.8px;font-weight:700;color:#070924;">Finarium</span>
<span class="t" style="left:176.25px;top:261px;font-size:14.1px;font-weight:700;color:#070924;">Dashboard</span>
<span class="t" style="left:176.25px;top:321px;font-size:14.1px;font-weight:400;color:#8893ab;transform:scaleX(1.0991);-webkit-text-stroke:.35px currentColor;">Transactions</span>
<span class="t" style="left:176.25px;top:385px;font-size:14.1px;font-weight:400;color:#8893ab;transform:scaleX(1.0453);-webkit-text-stroke:.35px currentColor;">Cards</span>
<span class="t" style="left:175.50px;top:449px;font-size:14.1px;font-weight:400;color:#8893ab;transform:scaleX(1.0973);-webkit-text-stroke:.35px currentColor;">Reports</span>
<span class="t" style="left:176.60px;top:509px;font-size:14.1px;font-weight:400;color:#8893ab;transform:scaleX(1.0504);-webkit-text-stroke:.35px currentColor;">Calendar</span>
<span class="t" style="left:176.60px;top:569px;font-size:14.1px;font-weight:400;color:#8893ab;transform:scaleX(1.1164);-webkit-text-stroke:.35px currentColor;">Settings</span>
<span class="t" style="left:176.60px;top:629px;font-size:14.1px;font-weight:400;color:#8893ab;transform:scaleX(1.0719);-webkit-text-stroke:.35px currentColor;">Chat</span>
<span class="t" style="left:144.30px;top:867px;font-size:16.4px;font-weight:700;color:#fff;transform:scaleX(0.9582);">Check all premium</span>
<span class="t" style="left:143.31px;top:893px;font-size:16.4px;font-weight:700;color:#fff;transform:scaleX(0.9914);">benefits for free</span>
<span class="t" style="left:143.30px;top:919px;font-size:16.4px;font-weight:700;color:#fff;">right now!</span>
<span class="t" style="left:395.81px;top:169px;font-size:40.0px;font-weight:700;color:#070924;transform:scaleX(0.9932);">Dashboard</span>
<span class="t" style="left:870.90px;top:187px;font-size:14.7px;font-weight:400;color:#8893ab;transform:scaleX(0.9856);">Showing for:</span>
<span class="t" style="left:956.60px;top:187px;font-size:14.7px;font-weight:400;color:#070924;transform:scaleX(0.9244);-webkit-text-stroke:.25px currentColor;">21 Oct – 28 Oct 2020</span>
<span class="t" style="left:441.99px;top:307px;font-size:14.8px;font-weight:400;color:#8893ab;-webkit-text-stroke:.35px currentColor;">Send money</span>
<span class="t" style="left:620.40px;top:307px;font-size:14.8px;font-weight:700;color:#070924;">Statements</span>
<span class="t" style="left:813.81px;top:307px;font-size:14.8px;font-weight:400;color:#8893ab;-webkit-text-stroke:.35px currentColor;">Top up</span>
<span class="t" style="left:994.69px;top:307px;font-size:14.8px;font-weight:400;color:#8893ab;-webkit-text-stroke:.35px currentColor;">More</span>
<span class="t" style="left:509.20px;top:435px;font-size:18.6px;font-weight:700;color:#070924;transform:scaleX(0.9675);">Total balance</span>
<span class="t" style="left:464.00px;top:484px;font-size:18.8px;font-weight:700;color:#070924;transform:scaleX(0.9455);">$</span>
<span class="t" style="left:486.28px;top:477px;font-size:65.1px;font-weight:700;color:#070924;transform:scaleX(0.5806);-webkit-text-stroke:1.7px currentColor;">1</span>
<span class="t" style="left:511.44px;top:477px;font-size:66.8px;font-weight:700;color:#070924;transform:scaleX(0.9788);">2</span>
<span class="t" style="left:545.01px;top:477px;font-size:66.8px;font-weight:700;color:#070924;transform:scaleX(0.8727);">,</span>
<span class="t" style="left:563.39px;top:477px;font-size:66.8px;font-weight:700;color:#070924;transform:scaleX(0.9088);">3</span>
<span class="t" style="left:597.86px;top:477px;font-size:65.1px;font-weight:700;color:#070924;transform:scaleX(0.5355);-webkit-text-stroke:1.7px currentColor;">1</span>
<span class="t" style="left:622.14px;top:477px;font-size:66.8px;font-weight:700;color:#070924;transform:scaleX(0.9788);">9</span>
<span class="t" style="left:554.00px;top:582px;font-size:13.9px;font-weight:700;color:#20c16c;transform:scaleX(0.9351);">3,27%</span>
<span class="t" style="left:791.75px;top:401px;font-size:18.6px;font-weight:700;color:#070924;transform:scaleX(0.9511);">Expenses</span>
<span class="t" style="left:888.10px;top:514px;font-size:30.9px;font-weight:700;color:#070924;transform:scaleX(0.8770);">$1,376</span>
<span class="t" style="left:898.36px;top:552px;font-size:13.8px;font-weight:400;color:#8893ab;transform:scaleX(0.9407);">House rent</span>
<span class="t" style="left:428.25px;top:720px;font-size:18.6px;font-weight:700;color:#070924;transform:scaleX(0.9559);">Transactions Overview</span>
<span class="t" style="left:915.40px;top:722px;font-size:14.9px;font-weight:400;color:#0e1030;transform:scaleX(0.9823);-webkit-text-stroke:.2px currentColor;">Savings</span>
<span class="t" style="left:1001.99px;top:722px;font-size:14.9px;font-weight:400;color:#0e1030;transform:scaleX(1.0086);-webkit-text-stroke:.2px currentColor;">Expenses</span>
<span class="t" style="left:427.10px;top:778px;font-size:13.6px;font-weight:400;color:#8893ab;transform:scaleX(0.9550);">$500</span>
<span class="t" style="left:427.10px;top:832px;font-size:13.6px;font-weight:400;color:#8893ab;transform:scaleX(0.9550);">$400</span>
<span class="t" style="left:427.10px;top:886px;font-size:13.6px;font-weight:400;color:#8893ab;transform:scaleX(0.9550);">$200</span>
<span class="t" style="left:427.10px;top:940px;font-size:13.6px;font-weight:400;color:#8893ab;transform:scaleX(0.9550);">$100</span>
<span class="t" style="left:427.10px;top:994px;font-size:13.6px;font-weight:400;color:#8893ab;transform:scaleX(0.9550);">0</span>
<span class="t" style="left:506.70px;top:1021px;font-size:13.6px;font-weight:400;color:#8893ab;transform:scaleX(0.9089);-webkit-text-stroke:.35px currentColor;">21 Oct</span>
<span class="t" style="left:589.70px;top:1021px;font-size:13.6px;font-weight:400;color:#8893ab;transform:scaleX(0.9089);-webkit-text-stroke:.35px currentColor;">22 Oct</span>
<span class="t" style="left:672.70px;top:1021px;font-size:13.6px;font-weight:400;color:#8893ab;transform:scaleX(0.9089);-webkit-text-stroke:.35px currentColor;">23 Oct</span>
<span class="t" style="left:755.50px;top:1021px;font-size:13.6px;font-weight:700;color:#070924;transform:scaleX(0.8803);">24 Oct</span>
<span class="t" style="left:838.70px;top:1021px;font-size:13.6px;font-weight:400;color:#8893ab;transform:scaleX(0.9089);-webkit-text-stroke:.35px currentColor;">25 Oct</span>
<span class="t" style="left:921.70px;top:1021px;font-size:13.6px;font-weight:400;color:#8893ab;transform:scaleX(0.9089);-webkit-text-stroke:.35px currentColor;">26 Oct</span>
<span class="t" style="left:1004.70px;top:1021px;font-size:13.6px;font-weight:400;color:#8893ab;transform:scaleX(0.9089);-webkit-text-stroke:.35px currentColor;">27 Oct</span>
<span class="t" style="left:0.00px;top:-102px;font-size:13.6px;font-weight:400;color:#070924;transform:scaleX(0.9089);">22 Oct</span>
<span class="t" style="left:0.00px;top:-102px;font-size:13.6px;font-weight:700;color:#070924;transform:scaleX(0.8803);">24 Oct</span>
<span class="t" style="left:764.50px;top:780px;font-size:14.1px;font-weight:700;color:#fff;transform:scaleX(1.0186);">$198</span>
<span class="t" style="left:764.50px;top:810px;font-size:14.1px;font-weight:700;color:#fff;transform:scaleX(1.0313);">$376</span>
<span class="t" style="left:1180.25px;top:255px;font-size:18.6px;font-weight:700;color:#070924;transform:scaleX(0.9302);">Your cards</span>
<span class="t" style="left:1414.45px;top:328px;font-size:16.5px;font-weight:400;color:rgba(255,255,255,.72);transform:scaleX(1.0465);">Debit</span>
<span class="t" style="left:1212.50px;top:383px;font-size:18.8px;font-weight:700;color:#fff;">$</span>
<span class="t" style="left:1230.06px;top:376px;font-size:50.4px;font-weight:700;color:#fff;transform:scaleX(0.9423);-webkit-text-stroke:.4px #fff;">6</span>
<span class="t" style="left:1255.06px;top:376px;font-size:50.4px;font-weight:700;color:#fff;transform:scaleX(0.8125);-webkit-text-stroke:.4px #fff;">,</span>
<span class="t" style="left:1269.15px;top:376px;font-size:50.4px;font-weight:700;color:#fff;transform:scaleX(0.8462);-webkit-text-stroke:.4px #fff;">5</span>
<span class="t" style="left:1292.50px;top:376px;font-size:50.4px;font-weight:700;color:#fff;-webkit-text-stroke:.4px #fff;">2</span>
<span class="t" style="left:1318.88px;top:376px;font-size:50.4px;font-weight:700;color:#fff;transform:scaleX(1.0625);-webkit-text-stroke:.4px #fff;">0</span>
<span class="t" style="left:1260.50px;top:456px;font-size:16.2px;font-weight:400;color:rgba(255,255,255,.92);transform:scaleX(0.8887);">3917</span>
<span class="t" style="left:1411.50px;top:456px;font-size:16.2px;font-weight:400;color:rgba(255,255,255,.72);transform:scaleX(1.0789);">04/24</span>
<span class="t" style="left:1179.72px;top:577px;font-size:18.1px;font-weight:700;color:#070924;transform:scaleX(0.9840);">Receivers</span>
<span class="t" style="left:1179.71px;top:724px;font-size:18.3px;font-weight:700;color:#070924;transform:scaleX(0.9901);">Recent Activity</span>
<span class="t" style="left:1251.01px;top:776px;font-size:15.5px;font-weight:400;color:#0d0e20;transform:scaleX(1.1949);-webkit-text-stroke:.3px #0d0e20;">Lyft</span>
<span class="t" style="left:1252.20px;top:803px;font-size:14.2px;font-weight:400;color:#8893ab;transform:scaleX(1.0115);">28 Oct 2020</span>
<span class="t" style="left:1438.60px;top:789px;font-size:17.1px;font-weight:400;color:#0d0e20;transform:scaleX(0.9502);-webkit-text-stroke:.3px #0d0e20;">$12.45</span>
<span class="t" style="left:1251.08px;top:856px;font-size:15.5px;font-weight:400;color:#0d0e20;transform:scaleX(1.1151);-webkit-text-stroke:.3px #0d0e20;">Nike store</span>
<span class="t" style="left:1252.20px;top:883px;font-size:14.2px;font-weight:400;color:#8893ab;transform:scaleX(1.0115);">28 Oct 2020</span>
<span class="t" style="left:1436.80px;top:869px;font-size:17.1px;font-weight:400;color:#0d0e20;transform:scaleX(0.9850);-webkit-text-stroke:.3px #0d0e20;">$74.99</span>
<span class="t" style="left:1252.20px;top:936px;font-size:15.5px;font-weight:400;color:#0d0e20;transform:scaleX(1.0940);-webkit-text-stroke:.3px #0d0e20;">Google</span>
<span class="t" style="left:1252.20px;top:963px;font-size:14.2px;font-weight:400;color:#8893ab;transform:scaleX(1.0115);">28 Oct 2020</span>
<span class="t" style="left:1444.30px;top:949px;font-size:17.1px;font-weight:400;color:#0d0e20;transform:scaleX(1.0291);-webkit-text-stroke:.3px #0d0e20;">$5.99</span>
<span class="t" style="left:1251.01px;top:1016px;font-size:15.5px;font-weight:400;color:#0d0e20;transform:scaleX(1.1949);-webkit-text-stroke:.3px #0d0e20;">Lyft</span>
<span class="t" style="left:1252.20px;top:1043px;font-size:14.2px;font-weight:400;color:#8893ab;transform:scaleX(1.0115);">27 Oct 2020</span>
<span class="t" style="left:1444.80px;top:1029px;font-size:17.1px;font-weight:400;color:#0d0e20;transform:scaleX(1.0173);-webkit-text-stroke:.3px #0d0e20;">$4.50</span>
</body></html>
